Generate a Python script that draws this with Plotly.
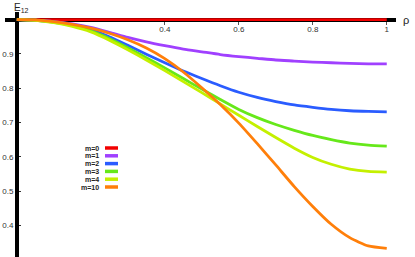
import plotly.graph_objects as go

rho = [0.0, 0.05, 0.1, 0.15, 0.2, 0.25, 0.3, 0.35, 0.4, 0.45, 0.5,
       0.55, 0.6, 0.65, 0.7, 0.75, 0.8, 0.85, 0.9, 0.95, 1.0]
labels = ["m=0", "m=1", "m=2", "m=3", "m=4", "m=10"]
colors = ["#f20000", "#a040ff", "#2a5cff", "#66e81a", "#c4f000", "#ff7f0a"]
e_m0 = [1.0] * 21
e_m1 = [1.0, 0.998, 0.994, 0.987, 0.977, 0.963, 0.948, 0.935, 0.924, 0.914, 0.906,
        0.898, 0.892, 0.887, 0.882, 0.879, 0.876, 0.874, 0.872, 0.871, 0.871]
e_m2 = [1.0, 0.998, 0.993, 0.984, 0.970, 0.950, 0.925, 0.899, 0.874, 0.850, 0.828,
        0.807, 0.788, 0.773, 0.761, 0.751, 0.744, 0.738, 0.734, 0.732, 0.731]
e_m3 = [1.0, 0.998, 0.992, 0.982, 0.967, 0.945, 0.918, 0.889, 0.859, 0.828, 0.797,
        0.767, 0.738, 0.714, 0.694, 0.677, 0.662, 0.650, 0.640, 0.634, 0.631]
e_m4 = [1.0, 0.998, 0.991, 0.980, 0.964, 0.940, 0.912, 0.882, 0.851, 0.819, 0.787,
        0.754, 0.721, 0.688, 0.656, 0.625, 0.598, 0.578, 0.564, 0.557, 0.555]
e_m10 = [1.0, 0.999, 0.994, 0.986, 0.975, 0.960, 0.941, 0.917, 0.886, 0.847, 0.801,
         0.752, 0.698, 0.638, 0.576, 0.513, 0.455, 0.403, 0.364, 0.340, 0.333]
series = [e_m0, e_m1, e_m2, e_m3, e_m4, e_m10]
xticks = [0.4, 0.6, 0.8, 1.0]
xticklabels = ["0.4", "0.6", "0.8", "1"]
yticks = [0.4, 0.5, 0.6, 0.7, 0.8, 0.9]

W, H = 415, 257
ml, mr, mt, mb = 5, 19, 12, 0
pw, ph = W - ml - mr, H - mt - mb
xr = [-0.032, 1.025]
yr = [0.3076, 1.022]

def px_x(p):
    return (p - ml) / pw

def px_y(p):
    return (H - mb - p) / ph

fig = go.Figure()
for lab, col, ys in zip(labels, colors, series):
    fig.add_trace(go.Scatter(x=rho, y=ys, mode="lines", name=lab,
                             line=dict(color=col, width=2.8, shape="spline", smoothing=0.6),
                             showlegend=False, cliponaxis=False))

font_tick = dict(family="Liberation Sans, Arial, sans-serif", size=8, color="#333333")

fig.update_layout(
    width=W, height=H, margin=dict(l=ml, r=mr, t=mt, b=mb),
    plot_bgcolor="white", paper_bgcolor="white",
    xaxis=dict(range=xr, anchor="free", side="top",
               position=(1.0 - yr[0]) / (yr[1] - yr[0]),
               showline=True, linecolor="black", linewidth=4, layer="below traces",
               showgrid=False, zeroline=False, tickvals=xticks, ticktext=xticklabels,
               ticks="inside", ticklen=3, tickwidth=1, tickcolor="#555555",
               ticklabelposition="inside", tickfont=font_tick),
    yaxis=dict(range=yr, anchor="free", position=(0 - xr[0]) / (xr[1] - xr[0]),
               showline=True, linecolor="black", linewidth=3.6, layer="below traces",
               showgrid=False, zeroline=False, tickvals=yticks,
               ticks="inside", ticklen=2, tickwidth=1, tickcolor="#333333",
               tickfont=font_tick),
)

# axis titles
fig.add_annotation(text="E<sub>12</sub>", x=px_x(12), y=px_y(8), xref="paper", yref="paper",
                   xanchor="left", yanchor="middle", showarrow=False,
                   font=dict(family="Liberation Sans, Arial, sans-serif", size=10, color="#222222"))
fig.add_annotation(text="ρ", x=px_x(406), y=px_y(20), xref="paper", yref="paper",
                   xanchor="center", yanchor="middle", showarrow=False,
                   font=dict(family="Liberation Sans, Arial, sans-serif", size=11, color="#222222"))

# custom legend: label on the left, swatch on the right
row0, step = 148, 7.8
for i, (lab, col) in enumerate(zip(labels, colors)):
    py = row0 + i * step
    fig.add_annotation(text="<b>" + lab + "</b>", x=px_x(101), y=px_y(py), xref="paper", yref="paper",
                       xanchor="right", yanchor="middle", showarrow=False,
                       font=dict(family="Liberation Sans, Arial, sans-serif", size=7, color="#222222"))
    fig.add_shape(type="line", xref="paper", yref="paper",
                  x0=px_x(105), x1=px_x(118), y0=px_y(py), y1=px_y(py),
                  line=dict(color=col, width=3.5))

fig.write_html("out.html", config={"displayModeBar": False},
               post_script="document.body.style.margin='0';")
